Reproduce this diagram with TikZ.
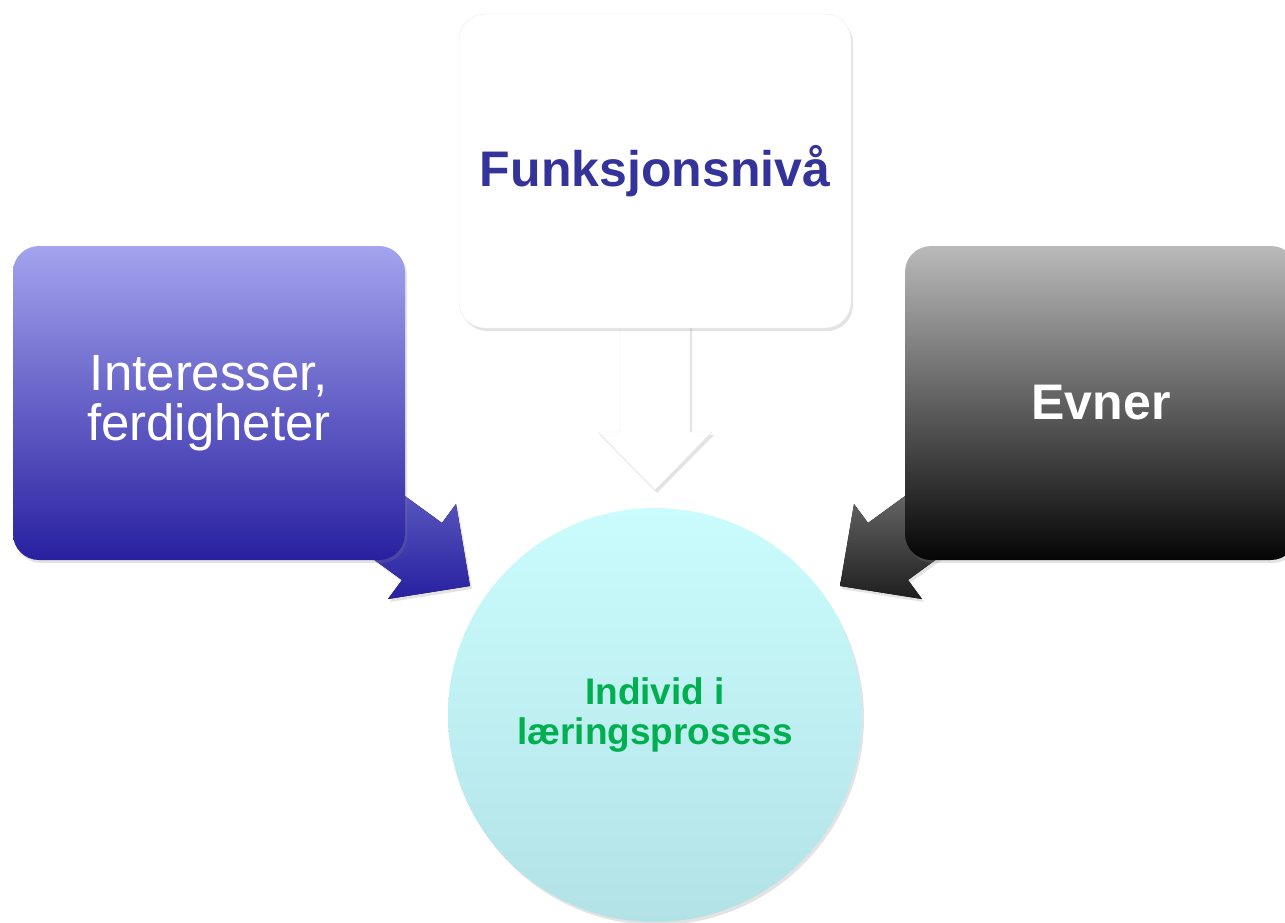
\documentclass[tikz,border=0pt]{standalone}
\usepackage{fontspec}
\setmainfont{Liberation Sans}
\usetikzlibrary{shadows}
\definecolor{blueT}{HTML}{A3A3EE}
\definecolor{blueB}{HTML}{2820A0}
\definecolor{blueArT}{HTML}{6666C6}
\definecolor{greyT}{HTML}{BABABA}
\definecolor{greyB}{HTML}{050505}
\definecolor{greyArT}{HTML}{7A7A7A}
\definecolor{greyArB}{HTML}{1E1E1E}
\definecolor{cyanT}{HTML}{CBFCFD}
\definecolor{cyanB}{HTML}{B2E2E6}
\definecolor{titleblue}{HTML}{333399}
\definecolor{txtgreen}{HTML}{00B050}
\begin{document}
\begin{tikzpicture}[x=1pt,y=-1pt,
  softshadow/.style={drop shadow={opacity=0.22,shadow xshift=2pt,shadow yshift=-3pt}},
  boxnode/.style={rounded corners=26pt,minimum width=392pt,minimum height=314pt,
    inner sep=0pt,align=center,softshadow},
  bluebox/.style={boxnode,top color=blueT,bottom color=blueB,text=white,
    font=\fontsize{51}{50}\selectfont},
  whitebox/.style={boxnode,fill=white,draw=black!8,text=titleblue,
    font=\fontsize{50}{54}\selectfont\bfseries},
  greybox/.style={boxnode,top color=greyT,bottom color=greyB,text=white,
    font=\fontsize{50}{54}\selectfont\bfseries},
  centre/.style={circle,minimum size=414pt,inner sep=0pt,align=center,
    top color=cyanT,bottom color=cyanB,text=txtgreen,softshadow,
    font=\fontsize{37}{40}\selectfont\bfseries},
  bluearrow/.style={top color=blueArT,bottom color=blueB,softshadow},
  greyarrow/.style={top color=greyArT,bottom color=greyArB,softshadow},
  whitearrow/.style={fill=white,draw=black!10,softshadow}
]
\useasboundingbox (0,0) rectangle (1285,923);

% block arrows (drawn first, boxes cover their tails)
\fill[bluearrow] (361,464) -- (442,523) -- (456,504) -- (470,586) -- (388,599) -- (402,580) -- (321,521) -- cycle;
\fill[greyarrow] (949,464) -- (868,523) -- (854,504) -- (840,586) -- (922,599) -- (908,580) -- (989,521) -- cycle;
\filldraw[whitearrow] (620,300) -- (690,300) -- (690,432) -- (712,432) -- (655,490) -- (598,432) -- (620,432) -- cycle;

\node[bluebox] (left) at (209,403) {Interesser,\\ferdigheter};
\node[whitebox] (top) at (655,171) {Funksjonsnivå};
\node[greybox] (right) at (1101,403) {Evner};
\node[centre] (c) at (655,715) {Individ i\\læringsprosess};
\end{tikzpicture}
\end{document}
